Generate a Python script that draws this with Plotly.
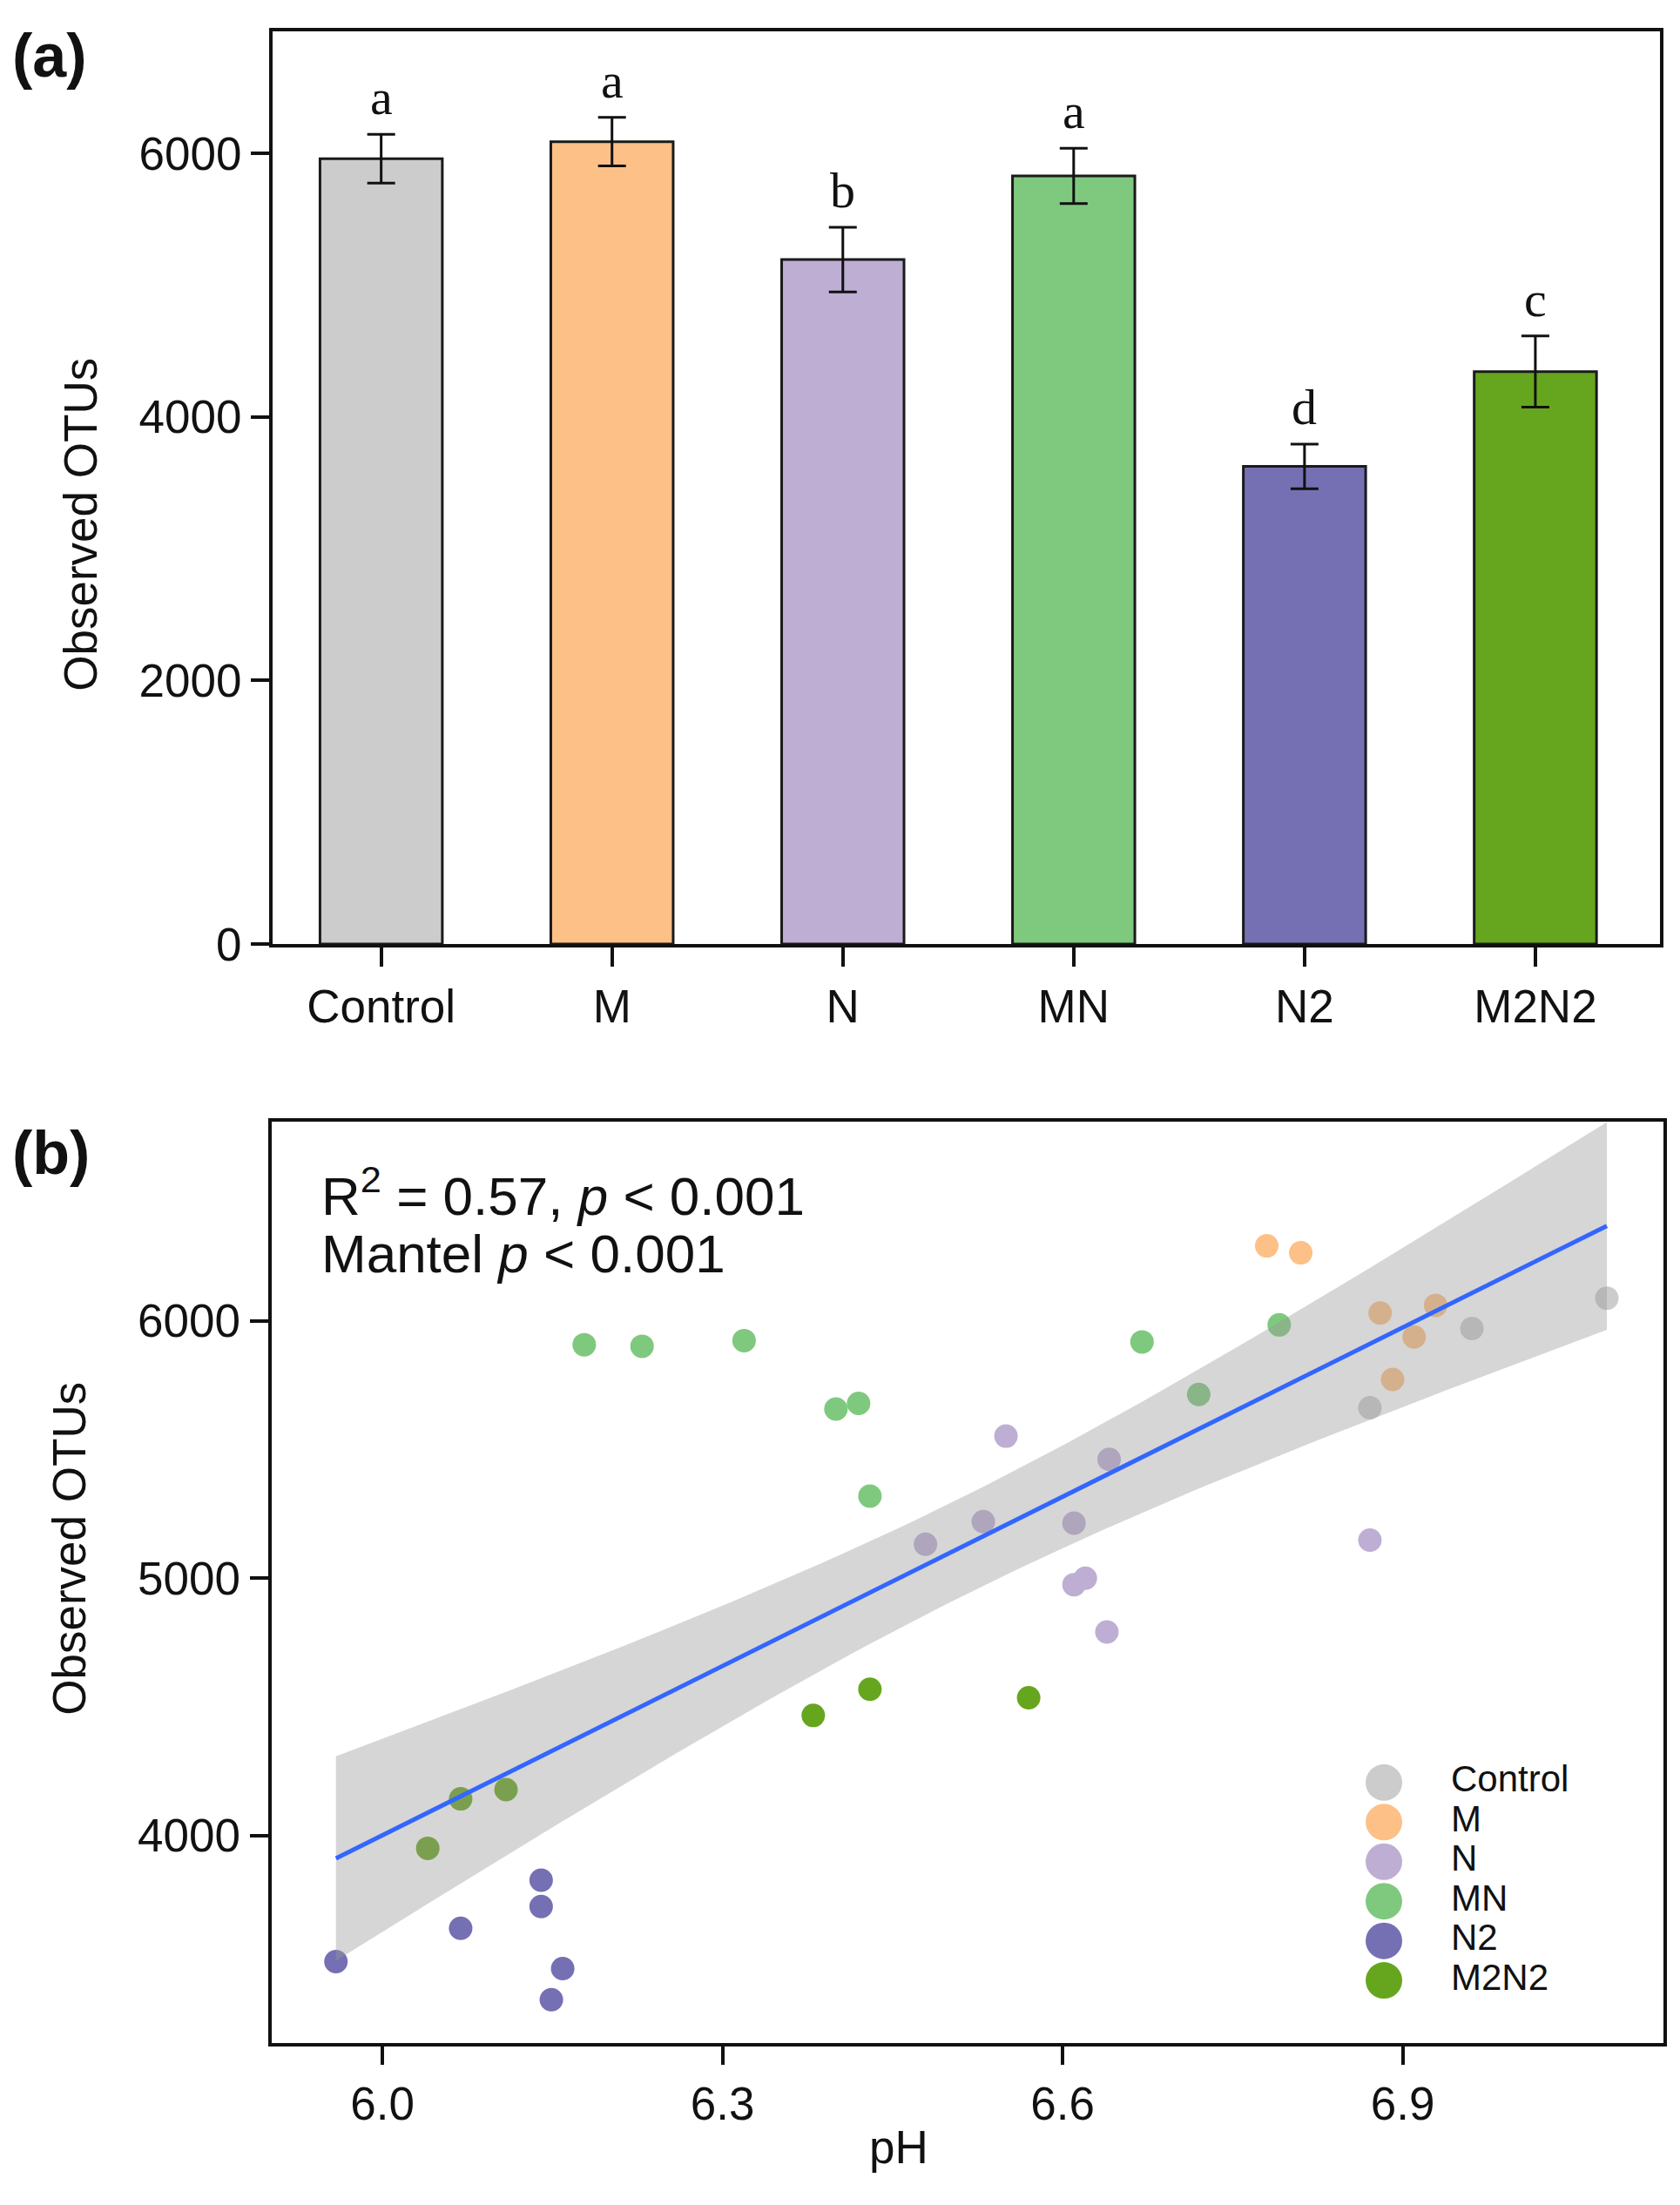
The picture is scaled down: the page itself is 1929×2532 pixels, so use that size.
import numpy as np
import plotly.graph_objects as go

# %% data
groups = ["Control", "M", "N", "MN", "N2", "M2N2"]
colors = ["#cccccc", "#fdc086", "#beaed4", "#7fc97f", "#7570b3", "#66a61e"]

# panel (a): mean observed OTUs with SE
otu_mean = [5960, 6090, 5195, 5830, 3625, 4345]
otu_se = [185, 185, 245, 210, 170, 270]
letters = ["a", "a", "b", "a", "d", "c"]

# panel (b): pH vs observed OTUs for each sample
ph_control = [7.080, 6.961, 6.871]
otu_control = [6088, 5970, 5662]
ph_m = [6.780, 6.810, 6.880, 6.929, 6.910, 6.891]
otu_m = [6291, 6264, 6030, 6060, 5937, 5772]
ph_n = [6.550, 6.871, 6.610, 6.620, 6.639, 6.479, 6.530, 6.610, 6.641]
otu_n = [5552, 5148, 4975, 5000, 4791, 5132, 5220, 5214, 5462]
ph_mn = [6.178, 6.229, 6.319, 6.400, 6.420, 6.430, 6.670, 6.720, 6.791]
otu_mn = [5907, 5901, 5923, 5657, 5679, 5319, 5918, 5714, 5984]
ph_n2 = [5.959, 6.069, 6.140, 6.140, 6.159, 6.149]
otu_n2 = [3511, 3640, 3827, 3725, 3484, 3363]
ph_m2n2 = [6.040, 6.069, 6.109, 6.380, 6.430, 6.570]
otu_m2n2 = [3951, 4143, 4179, 4467, 4569, 4536]

ph_by_group = [ph_control, ph_m, ph_n, ph_mn, ph_n2, ph_m2n2]
otu_by_group = [otu_control, otu_m, otu_n, otu_mn, otu_n2, otu_m2n2]

# %% linear fit with 95% confidence band (like geom_smooth(method = "lm"))
x_all = np.concatenate([np.array(v, dtype=float) for v in ph_by_group])
y_all = np.concatenate([np.array(v, dtype=float) for v in otu_by_group])
n = len(x_all)
slope, intercept = np.polyfit(x_all, y_all, 1)
resid = y_all - (slope * x_all + intercept)
s = np.sqrt(np.sum(resid**2) / (n - 2))
sxx = np.sum((x_all - x_all.mean()) ** 2)
t_crit = 2.026  # t(0.975, df = 37)

x_fit = np.linspace(x_all.min(), x_all.max(), 80)
y_fit = slope * x_fit + intercept
half = t_crit * s * np.sqrt(1 / n + (x_fit - x_all.mean()) ** 2 / sxx)
upper = y_fit + half
lower = y_fit - half

# %% figure
SANS = "Liberation Sans, Arial, sans-serif"
SERIF = "Liberation Serif, Times New Roman, serif"

fig = go.Figure()

fig.add_trace(
    go.Bar(
        x=groups,
        y=otu_mean,
        width=0.53,
        marker=dict(color=colors, line=dict(color="#1a1a1a", width=3)),
        error_y=dict(type="data", array=otu_se, color="#111111", thickness=3, width=16),
        showlegend=False,
        xaxis="x",
        yaxis="y",
    )
)

for g, c, xs, ys in zip(groups, colors, ph_by_group, otu_by_group):
    fig.add_trace(
        go.Scatter(
            x=xs,
            y=ys,
            mode="markers",
            marker=dict(color=c, size=27),
            name=g,
            showlegend=False,
            xaxis="x2",
            yaxis="y2",
        )
    )

fig.add_trace(
    go.Scatter(
        x=np.concatenate([x_fit, x_fit[::-1]]),
        y=np.concatenate([upper, lower[::-1]]),
        fill="toself",
        fillcolor="rgba(153,153,153,0.4)",
        line=dict(width=0),
        mode="lines",
        hoverinfo="skip",
        showlegend=False,
        xaxis="x2",
        yaxis="y2",
    )
)
fig.add_trace(
    go.Scatter(
        x=x_fit,
        y=y_fit,
        mode="lines",
        line=dict(color="#3366FF", width=5),
        showlegend=False,
        xaxis="x2",
        yaxis="y2",
    )
)

# legend drawn as a small inset so the keys can be as large as in the original
fig.add_trace(
    go.Scatter(
        x=[0] * len(groups),
        y=groups,
        mode="markers",
        marker=dict(color=colors, size=42),
        showlegend=False,
        xaxis="x3",
        yaxis="y3",
    )
)
fig.add_trace(
    go.Scatter(
        x=[1] * len(groups),
        y=groups,
        mode="text",
        text=groups,
        textposition="middle right",
        textfont=dict(family=SANS, size=42, color="#111111"),
        showlegend=False,
        xaxis="x3",
        yaxis="y3",
    )
)

axis_style = dict(
    showline=True,
    mirror=True,
    linecolor="#111111",
    linewidth=4,
    ticks="outside",
    tickwidth=4,
    tickcolor="#111111",
    showgrid=False,
    zeroline=False,
    tickfont=dict(family=SANS, size=53, color="#111111"),
)

annotations = []
for g, m, e, lab in zip(groups, otu_mean, otu_se, letters):
    annotations.append(
        dict(
            x=g, y=m + e, xref="x", yref="y", text=lab, showarrow=False,
            yanchor="bottom", yshift=8,
            font=dict(family=SERIF, size=58, color="#111111"),
        )
    )

annotations += [
    dict(x=0.006, y=0.9745, xref="paper", yref="paper", text="<b>(a)</b>", showarrow=False,
         xanchor="left", yanchor="middle", font=dict(family=SANS, size=70, color="#111111")),
    dict(x=0.006, y=0.4708, xref="paper", yref="paper", text="<b>(b)</b>", showarrow=False,
         xanchor="left", yanchor="middle", font=dict(family=SANS, size=70, color="#111111")),
    dict(x=0.0482, y=0.7595, xref="paper", yref="paper", text="Observed OTUs", textangle=-90,
         xanchor="center", yanchor="middle",
         showarrow=False, font=dict(family=SANS, size=53, color="#111111")),
    dict(x=0.0415, y=0.2891, xref="paper", yref="paper", text="Observed OTUs", textangle=-90,
         xanchor="center", yanchor="middle",
         showarrow=False, font=dict(family=SANS, size=53, color="#111111")),
    dict(x=0.535, y=0.0146, xref="paper", yref="paper", text="pH",
         xanchor="center", yanchor="middle",
         showarrow=False, font=dict(family=SANS, size=53, color="#111111")),
    dict(x=0.190, y=0.4530, xref="paper", yref="paper",
         text="R<sup>2</sup> = 0.57, <i>p</i> &lt; 0.001", showarrow=False,
         xanchor="left", yanchor="middle", font=dict(family=SANS, size=62, color="#111111")),
    dict(x=0.190, y=0.4246, xref="paper", yref="paper",
         text="Mantel <i>p</i> &lt; 0.001", showarrow=False,
         xanchor="left", yanchor="middle", font=dict(family=SANS, size=62, color="#111111")),
]

fig.update_layout(
    width=1929,
    height=2532,
    margin=dict(l=0, r=0, t=0, b=0),
    paper_bgcolor="white",
    plot_bgcolor="rgba(0,0,0,0)",
    xaxis=dict(
        axis_style, domain=[0.1623, 0.9881], type="category", categoryorder="array",
        categoryarray=groups, range=[-0.47, 5.54], ticklen=22,
    ),
    yaxis=dict(
        axis_style, domain=[0.5667, 0.9858], range=[0, 6930],
        tickvals=[0, 2000, 4000, 6000], ticklen=21,
    ),
    xaxis2=dict(
        axis_style, domain=[0.1615, 0.9902], range=[5.902, 7.13],
        tickvals=[6.0, 6.3, 6.6, 6.9], tickformat=".1f", ticklen=21, anchor="y2",
    ),
    yaxis2=dict(
        axis_style, domain=[0.0624, 0.4854], range=[3195, 6775],
        tickvals=[4000, 5000, 6000], ticklen=21, anchor="x2",
    ),
    xaxis3=dict(domain=[0.8038, 0.9435], range=[-0.5, 3], visible=False, anchor="y3"),
    yaxis3=dict(
        domain=[0.0820, 0.1910], type="category", categoryorder="array",
        categoryarray=groups, range=[5.5, -0.5], visible=False, anchor="x3",
    ),
    annotations=annotations,
)

# the page body has a default 8px margin; drop it so the figure fills the window exactly
fig.write_html(
    "out.html",
    config={"displayModeBar": False},
    post_script="document.body.style.margin = '0';",
)
